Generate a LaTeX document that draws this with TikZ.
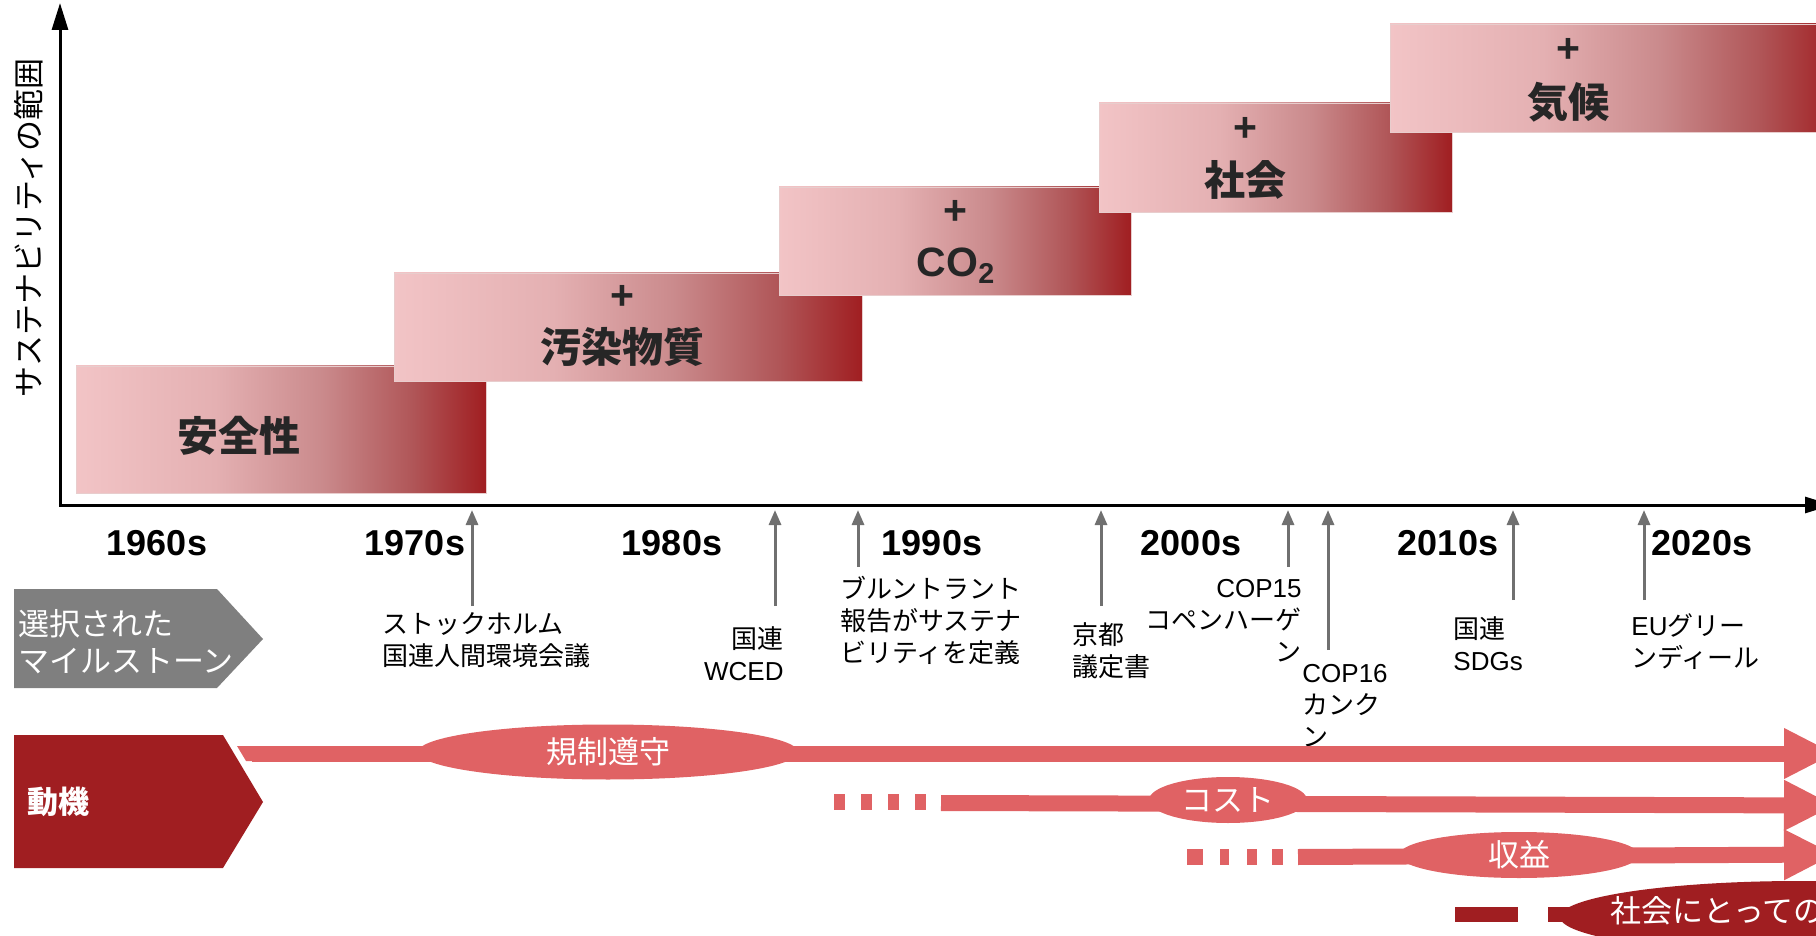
\documentclass[tikz,border=0pt]{standalone}
\usepackage{fontspec}
\setmainfont{Noto Sans CJK JP}
\newfontfamily\lat{Liberation Sans}
\usetikzlibrary{arrows.meta,shapes.geometric}
\definecolor{axisgray}{HTML}{707070}
\definecolor{tagred}{HTML}{A01E21}
\definecolor{taggray}{HTML}{7F7F7F}
\definecolor{motiv}{HTML}{E06264}
\definecolor{txt}{HTML}{262626}
\definecolor{boxL}{HTML}{F2C4C6}
\definecolor{boxA}{HTML}{E4B0B2}
\definecolor{boxB}{HTML}{CA8A8C}
\definecolor{boxC}{HTML}{B05658}
\definecolor{boxR}{HTML}{A01E21}
\definecolor{boxedge}{HTML}{E8CDCD}
\pgfdeclarehorizontalshading{redfade}{100bp}{color(0bp)=(boxL); color(25bp)=(boxL); color(42bp)=(boxA); color(55bp)=(boxB); color(66bp)=(boxC); color(75bp)=(boxR); color(100bp)=(boxR)}
\tikzset{
  stepbox/.style={shading=redfade, draw=boxedge, line width=0.4pt},
  boxlbl/.style={font=\fontsize{20.5}{24}\selectfont\bfseries, text=txt, inner sep=0pt},
  pluslbl/.style={font=\lat\fontsize{20.5}{24}\selectfont\bfseries, text=txt, inner sep=0pt},
  decade/.style={font=\lat\fontsize{18}{22}\selectfont\bfseries, inner sep=0pt},
  axisline/.style={line width=1.5pt, line join=miter},
  msarrow/.style={draw=axisgray, line width=1.5pt, -{Triangle[length=7.5pt,width=6pt]}},
  mslbl/.style={font=\fontsize{13}{16}\selectfont, inner sep=0pt},
  tagtext/.style={font=\fontsize{15.5}{18.5}\selectfont, text=white, inner sep=0pt, align=left},
  band/.style={draw=motiv, line width=8pt, -{Triangle[length=25.5pt,width=23.5pt]}},
  lens/.style={ellipse, fill=motiv, inner sep=0pt, text=white, font=\fontsize{15.5}{18}\selectfont},
}
\begin{document}
\begin{tikzpicture}[x=0.5pt,y=-0.5pt]
\useasboundingbox (0,0) rectangle (1816,936);
\clip (0,0) rectangle (1816,936);

% steps
\path[stepbox] (76,366) rectangle (486,493);
\path[stepbox] (394,273) rectangle (862,381);
\path[stepbox] (779,187) rectangle (1131,295);
\path[stepbox] (1099,103) rectangle (1452,212);
\path[stepbox] (1390,24) rectangle (1840,132);

\node[boxlbl] (l1) at (239,436) {安全性};
\node[pluslbl] (p2) at (622,297) {+};
\node[boxlbl] (l2) at (622,347) {汚染物質};
\node[pluslbl] (p3) at (955,212) {+};
\node[pluslbl, anchor=base] (l3) at (956,277) {CO\textsubscript{2}};
\node[pluslbl] (p4) at (1245,129) {+};
\node[boxlbl] (l4) at (1245,180) {社会};
\node[pluslbl] (p5) at (1568,50) {+};
\node[boxlbl] (l5) at (1568,102) {気候};

% axes
\coordinate (O) at (60,505);
\coordinate (Ytop) at (60,3);
\coordinate (Xend) at (1832,505);
\draw[axisline, {Triangle[length=13.5pt,width=8pt]}-{Triangle[length=13.5pt,width=8pt]}] (Ytop) -- (O) -- (Xend);
\node[font=\fontsize{15.5}{18}\selectfont, rotate=90, inner sep=0pt] (ylab) at (29,228) {サステナビリティの範囲};

% decades
\node[decade] (d60) at (157,543) {1960s};
\node[decade] (d70) at (415,543) {1970s};
\node[decade] (d80) at (672,543) {1980s};
\node[decade] (d90) at (932,543) {1990s};
\node[decade] (d00) at (1191,543) {2000s};
\node[decade] (d10) at (1448,543) {2010s};
\node[decade] (d20) at (1702,543) {2020s};

% milestone arrows
\foreach \n/\x/\y in {1/472/606, 2/775/606, 3/858/567, 4/1101/606, 5/1288/567, 6/1328/650, 7/1513/600, 8/1644/600}{
  \coordinate (ms\n) at (\x,\y);
  \coordinate (mt\n) at (\x,510);
  \draw[msarrow] (ms\n) -- (mt\n);
}

% milestone labels
\node[mslbl, anchor=north west, align=left] (m1) at (382,612) {ストックホルム\\国連人間環境会議};
\node[mslbl, anchor=north east, align=right] (m2) at (784,626) {国連\\{\lat WCED}};
\node[mslbl, anchor=north west, align=left] (m3) at (840,576) {ブルントラント\\報告がサステナ\\ビリティを定義};
\node[mslbl, anchor=north west, align=left] (m4) at (1072,622) {京都\\議定書};
\node[mslbl, anchor=north east, align=right] (m5) at (1302,579) {{\lat COP15}\\コペンハーゲ\\ン};
\node[mslbl, anchor=north west, align=left] (m6) at (1302,664) {{\lat COP16}\\カンク\\ン};
\node[mslbl, anchor=north west, align=left] (m7) at (1453,616) {国連\\{\lat SDGs}};
\node[mslbl, anchor=north west, align=left] (m8) at (1631,613) {{\lat EU}グリー\\ンディール};

% tags
\fill[taggray] (14,589) -- (217,589) -- (263,639) -- (217,688) -- (14,688) -- cycle;
\node[tagtext, anchor=north west] (tag1) at (18,609) {選択された\\マイルストーン};
\fill[tagred] (14,735) -- (223,735) -- (263,802) -- (223,868) -- (14,868) -- cycle;
\node[tagtext, font=\fontsize{15.5}{18.5}\selectfont\bfseries, anchor=west] (tag2) at (27,802) {動機};

% motivation bands
\fill[motiv] (237,746) -- (254,746) -- (254,761) -- (246,761) -- cycle;
\coordinate (b1s) at (252,753.5);
\coordinate (b1e) at (1835,753.5);
\draw[band] (b1s) -- (b1e);
\node[lens, minimum width=190pt, minimum height=27.5pt] (reg) at (608,752) {規制遵守};

\draw[motiv, line width=8pt, dash pattern=on 5.5pt off 8pt] (834,802) -- (926,802);
\coordinate (b2s) at (941,803);
\coordinate (b2e) at (1835,805.5);
\draw[band] (b2s) -- (b2e);
\node[lens, minimum width=79pt, minimum height=23pt] (cost) at (1228,800) {コスト};

\foreach \a/\b in {1187/1203, 1220/1229, 1247/1257, 1272/1283}{
  \fill[motiv] (\a,849) rectangle (\b,865);
}
\coordinate (b3s) at (1298,857);
\coordinate (b3e) at (1835,854.5);
\draw[band] (b3s) -- (b3e);
\node[lens, minimum width=120pt, minimum height=23pt] (rev) at (1519,855) {収益};

\fill[tagred] (1455,907) rectangle (1518,922);
\coordinate (b4s) at (1548,914.5);
\coordinate (b4e) at (1700,914.5);
\draw[tagred, line width=7.5pt] (b4s) -- (b4e);
\node[ellipse, fill=tagred, inner sep=0pt, minimum width=240pt, minimum height=36pt] (val) at (1800,917) {};
\node[font=\fontsize{15.5}{18}\selectfont, text=white, inner sep=0pt, anchor=west] (valt) at (1610,911) {社会にとっての};
\end{tikzpicture}
\end{document}
